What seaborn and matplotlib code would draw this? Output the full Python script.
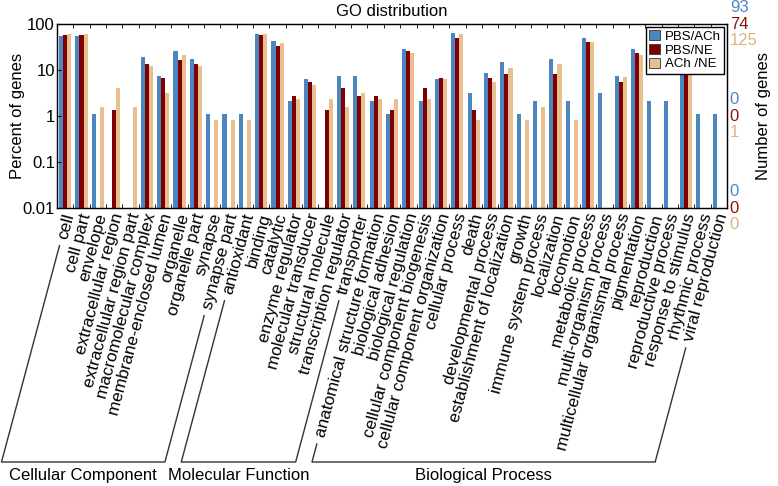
import numpy as np
import pandas as pd
import matplotlib
matplotlib.use("Agg")
import matplotlib.pyplot as plt
import matplotlib.transforms as mtransforms
from matplotlib.lines import Line2D
import seaborn as sns

# GO terms (x axis)
cc_terms = ['cell', 'cell part', 'envelope', 'extracellular region', 'extracellular region part',
            'macromolecular complex', 'membrane-enclosed lumen', 'organelle', 'organelle part',
            'synapse', 'synapse part']
mf_terms = ['antioxidant', 'binding', 'catalytic', 'enzyme regulator', 'molecular transducer',
            'structural molecule', 'transcription regulator', 'transporter']
bp_terms = ['anatomical structure formation', 'biological adhesion', 'biological regulation',
            'cellular component biogenesis', 'cellular component organization', 'cellular process',
            'death', 'developmental process', 'establishment of localization', 'growth',
            'immune system process', 'localization', 'locomotion', 'metabolic process',
            'multi-organism process', 'multicellular organismal process', 'pigmentation',
            'reproduction', 'reproductive process', 'response to stimulus', 'rhythmic process',
            'viral reproduction']
terms = cc_terms + mf_terms + bp_terms
groups = ['Cellular Component', 'Molecular Function', 'Biological Process']

series = ['PBS/ACh', 'PBS/NE', 'ACh /NE']
totals = [93, 74, 125]
nan = np.nan

# percent of genes
pbs_ach = [54.8, 54.8, 1.08, nan, nan, 19.4, 7.5, 25.8, 17.2, 1.08, 1.08,
           1.08, 60.2, 43.0, 2.15, 6.45, nan, 7.5, 7.5,
           2.15, 1.08, 29.0, 2.15, 6.45, 62.4, 3.23, 8.6, 14.7, 1.08, 2.15, 17.2,
           2.15, 50.5, 3.23, 7.5, 29.0, 2.15, 2.15, 14.5, 1.08, 1.08]
pbs_ne = [57.6, 57.6, nan, 1.35, nan, 13.5, 6.8, 16.9, 13.5, nan, nan,
          nan, 57.6, 33.8, 2.7, 5.4, 1.35, 4.05, 2.7,
          2.7, 1.35, 25.7, 4.05, 6.76, 50.0, 1.35, 6.76, 8.1, nan, nan, 8.1,
          nan, 40.5, nan, 5.4, 23.0, nan, nan, 8.1, nan, nan]
ach_ne = [60.6, 60.6, 1.6, 4.0, 1.6, 12.0, 3.2, 20.8, 12.0, 0.8, 0.8,
          0.8, 60.0, 38.4, 2.4, 4.8, 2.4, 1.6, 3.2,
          2.4, 2.4, 23.2, 2.4, 6.4, 60.0, 0.8, 5.6, 11.2, 0.8, 1.6, 13.6,
          0.8, 40.8, nan, 7.2, 20.8, nan, nan, 12.0, nan, nan]

colors = ['#4b86c1', '#800000', '#e8bf8f']
text_colors = ['#4a87c2', '#8a1212', '#dfb383']

df = pd.DataFrame({
    'term': terms * 3,
    'series': [s for s in series for _ in terms],
    'pct': pbs_ach + pbs_ne + ach_ne,
}).dropna()

plt.rcParams['font.family'] = ['Liberation Sans', 'DejaVu Sans']

fig = plt.figure(figsize=(7.78, 4.86), dpi=100)
ax = fig.add_axes([57 / 778, 1 - 208 / 486, 670 / 778, 184 / 486])

sns.barplot(data=df, x='term', y='pct', hue='series', order=terms, hue_order=series,
            palette=colors, width=0.75, saturation=1, errorbar=None, ax=ax)
ax.set_yscale('log')
ax.set_ylim(0.01, 100)
ax.set_xlim(-0.5, len(terms) - 0.5)

yt = [0.01, 0.1, 1, 10, 100]
ax.set_yticks(yt)
ax.set_yticklabels(['0.01', '0.1', '1', '10', '100'], fontsize=12)
ax.yaxis.set_minor_locator(matplotlib.ticker.NullLocator())
ax.tick_params(axis='y', which='major', direction='in', length=3, right=True, pad=1.5)

ax.set_xticks(range(len(terms)))
ax.set_xticklabels(terms, rotation=75, ha='right', va='center', rotation_mode='anchor', fontsize=12.3)
ax.set_xticks(np.arange(0.5, len(terms) - 1), minor=True)
ax.tick_params(axis='x', which='major', length=0, pad=4)
ax.tick_params(axis='x', which='minor', direction='in', length=3, top=True, bottom=True)
shift = mtransforms.ScaledTranslation(0.044, 0, fig.dpi_scale_trans)
for lab in ax.get_xticklabels():
    lab.set_transform(lab.get_transform() + shift)

for sp in ax.spines.values():
    sp.set_color('#222222')
    sp.set_linewidth(1)

ax.set_xlabel('')
ax.set_ylabel('Percent of genes', fontsize=12, labelpad=-2)
ax.set_title('GO distribution', fontsize=12, pad=6)

# right axis: number of genes per series
ax2 = ax.twinx()
ax2.set_yscale('log')
ax2.set_ylim(0.01, 100)
ax2.set_yticks([])
ax2.yaxis.set_minor_locator(matplotlib.ticker.NullLocator())
ax2.set_ylabel('Number of genes', fontsize=12, labelpad=21)
trans = ax.get_yaxis_transform()
for k, (tot, c) in enumerate(zip(totals, text_colors)):
    off = mtransforms.offset_copy(trans, fig=fig, x=2, y=(1 - k) * 11.8, units='points')
    for v in [100, 1, 0.01]:
        ax.text(1.0, v, str(int(tot * v / 100)), transform=off, color=c,
                fontsize=12, ha='left', va='center')

handles, labels = ax.get_legend_handles_labels()
leg = ax.legend(handles, series, loc='upper right', fontsize=9.5, frameon=True, fancybox=False,
                edgecolor='black', framealpha=1, borderpad=0.25, labelspacing=0.1,
                handlelength=0.8, handleheight=0.8, handletextpad=0.4, borderaxespad=0.2)
leg.get_frame().set_linewidth(1)
for h in leg.legend_handles:
    h.set_edgecolor('#333333')
    h.set_linewidth(0.6)

# brackets under the term labels
fig.canvas.draw()
renderer = fig.canvas.get_renderer()
tick_labels = ax.get_xticklabels()
y_axis = ax.transAxes.transform((0, 0))[1]
y_end = 24
cot = 1 / np.tan(np.radians(75))


def line_x(i, y):
    x0 = ax.transData.transform((i, 0))[0] + 4.4
    return x0 - (y_axis - y) * cot


W, H = fig.get_size_inches() * fig.dpi
start = 0
for name, grp in zip(groups, [cc_terms, mf_terms, bp_terms]):
    i0, i1 = start, start + len(grp) - 1
    start += len(grp)
    pts = []
    for i in (i0, i1):
        bb = tick_labels[i].get_window_extent(renderer)
        ys = bb.y0 - 5
        pts.append(((line_x(i, ys), ys), (line_x(i, y_end), y_end)))
    xs = [pts[0][0][0], pts[0][1][0], pts[1][1][0], pts[1][0][0]]
    ys = [pts[0][0][1], pts[0][1][1], pts[1][1][1], pts[1][0][1]]
    fig.add_artist(Line2D(np.array(xs) / W, np.array(ys) / H, color='#333333', lw=1))
    xm = (pts[0][1][0] + pts[1][1][0]) / 2
    fig.text(xm / W, (y_end - 6) / H, name, ha='center', va='top', fontsize=12)

fig.savefig('out.png', dpi=100)
